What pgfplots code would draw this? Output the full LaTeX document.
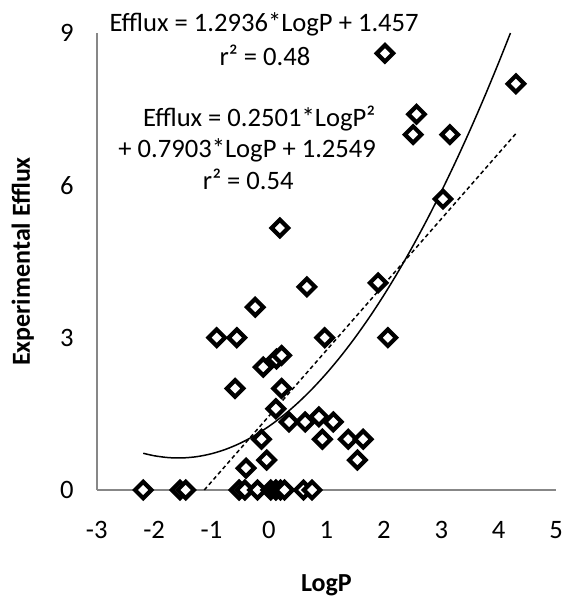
\documentclass[border=0pt]{standalone}
\usepackage{fontspec}
\setmainfont{Carlito}
\usepackage{pgfplots}
\pgfplotsset{compat=1.18}
\begin{document}
\begin{tikzpicture}
\path[use as bounding box] (-48.35pt,-54pt) rectangle (233.15pt,245pt);
\begin{axis}[
  scale only axis,
  width=229.7pt, height=228.5pt,
  xmin=-3, xmax=5, ymin=0, ymax=9,
  xtick={-3,-2,-1,0,1,2,3,4,5},
  ytick={0,3,6,9},
  axis lines*=left,
  axis line style={draw=black!47, line width=0.8pt},
  major tick length=0pt,
  /pgf/number format/assume math mode=true,
  ticklabel style={font=\fontsize{13.3}{16}\selectfont},
  xticklabel style={yshift=-12pt},
  yticklabel style={xshift=-8pt},
  xlabel={LogP},
  ylabel={Experimental Efflux},
  label style={font=\fontsize{13}{15}\selectfont\bfseries},
  xlabel style={at={(axis description cs:0.5,-0.208)}, anchor=center},
  ylabel style={at={(axis description cs:-0.161,0.5)}, anchor=center},
  clip=false,
]
\addplot[only marks, mark=square*, mark size=2.9pt,
  mark options={rotate=45, fill=white, draw=black, line width=2.1pt}]
coordinates {
(2.02,8.6) (4.3,8.0) (2.57,7.4) (2.51,7.0) (3.15,7.0) (3.03,5.73)
(0.19,5.16) (0.66,4.0) (1.9,4.08) (-0.24,3.6) (-0.91,3.0) (-0.56,3.0)
(0.97,3.0) (2.07,3.0) (-0.10,2.42) (0.13,2.58) (0.22,2.65) (-0.59,2.0)
(0.22,2.0) (0.12,1.6) (0.35,1.34) (0.63,1.34) (0.87,1.44) (1.12,1.34)
(0.93,1.0) (1.38,1.0) (1.64,1.0) (1.54,0.59) (-0.13,1.0) (-0.04,0.59)
(-0.4,0.43)
(-2.19,0) (-1.55,0) (-1.45,0) (-0.52,0) (-0.42,0) (-0.2,0)
(0.03,0) (0.12,0) (0.2,0) (0.27,0) (0.6,0) (0.75,0)
};
% linear trendline
\addplot[black, line width=0.75pt, dash pattern=on 2pt off 1.5pt]
coordinates {(-1.1263,0) (4.3,7.0195)};
% quadratic trendline
\addplot[black, line width=0.75pt, smooth]
coordinates {
(-2.19,0.7236) (-2.0,0.6747) (-1.75,0.6378) (-1.5,0.6321) (-1.25,0.6578)
(-1.0,0.7147) (-0.75,0.8029) (-0.5,0.9222) (-0.25,1.0729) (0,1.2549)
(0.25,1.4681) (0.5,1.7126) (0.75,1.9883) (1.0,2.2953) (1.25,2.6336)
(1.5,3.0031) (1.75,3.4038) (2.0,3.8359) (2.25,4.2992) (2.5,4.7938)
(2.75,5.3196) (3.0,5.8767) (3.25,6.4651) (3.5,7.0847) (3.75,7.7355)
(4.0,8.4177) (4.205,9.0)
};
\begin{scope}[every node/.style={font=\fontsize{13.3}{16}\selectfont, anchor=base, inner sep=0pt}]
\node at (axis cs:-0.085,9.02) {Efflux = 1.2936*LogP + 1.457};
\node at (axis cs:-0.07,8.37) {r² = 0.48};
\node at (axis cs:-0.17,7.15) {Efflux = 0.2501*LogP²};
\node at (axis cs:-0.38,6.54) {+ 0.7903*LogP + 1.2549};
\node at (axis cs:-0.36,5.91) {r² = 0.54};
\end{scope}
\end{axis}
\end{tikzpicture}
\end{document}
